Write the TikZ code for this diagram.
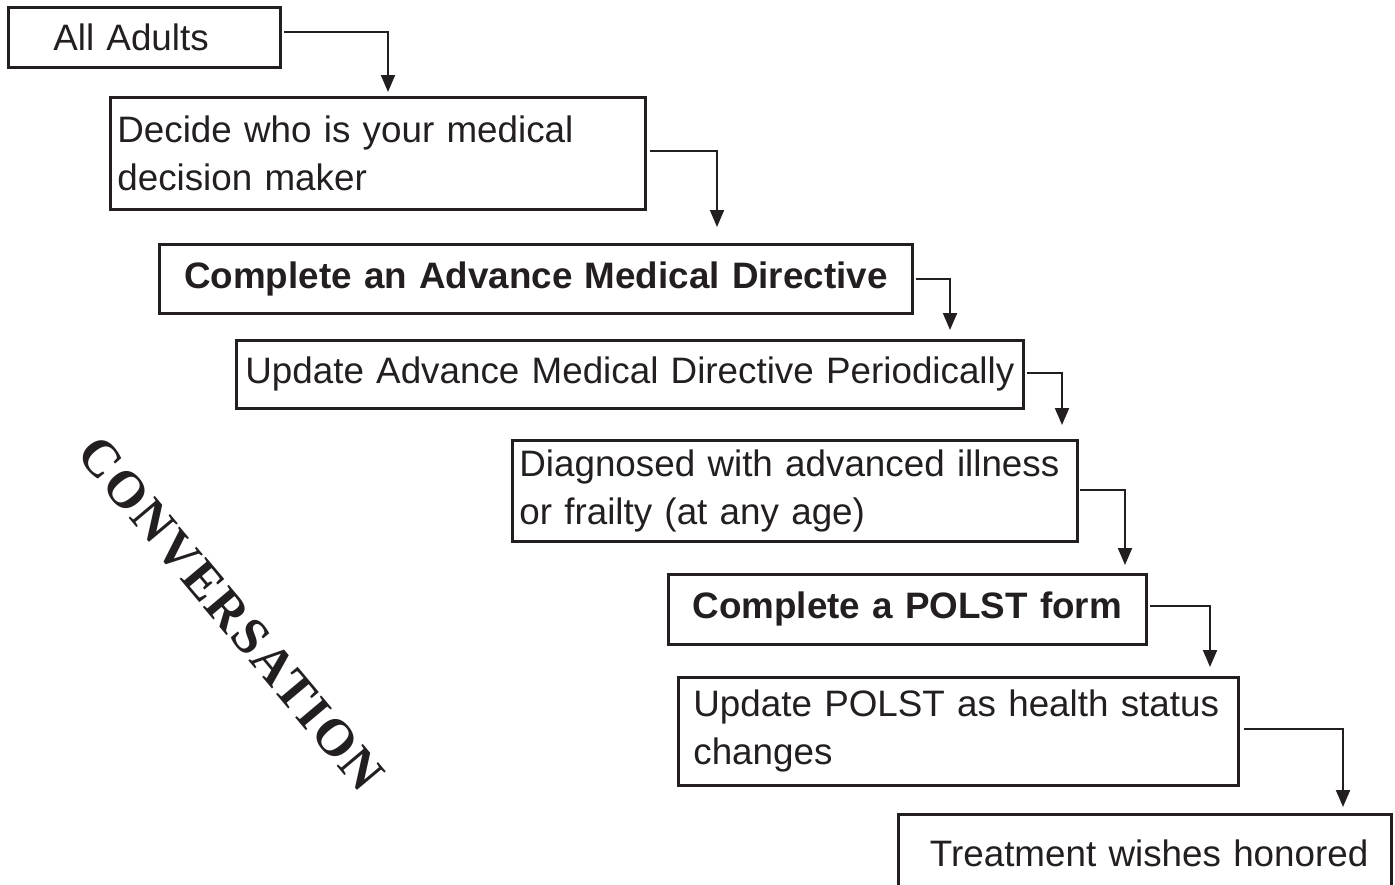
\documentclass[tikz,border=0pt]{standalone}
\usepackage{fontspec}
\setmainfont{Liberation Sans}
\newfontfamily\convfont[LetterSpace=4]{Liberation Serif}
\usetikzlibrary{calc, arrows.meta}
\definecolor{ink}{RGB}{35,31,32}

\begin{document}
\begin{tikzpicture}[x=0.5pt,y=-0.5pt,
    box/.style={draw=ink, line width=1.35pt, anchor=north west, inner ysep=0pt,
      align=left, text=ink, font=\fontsize{18.4}{24}\selectfont},
    flow/.style={draw=ink, line width=1pt, -{Triangle[length=8.5pt,width=7pt]}}]
        \useasboundingbox (0,0) rectangle (1395,884);

        % the steps, top left to bottom right
        \node[box, text width=91pt, inner xsep=22.5pt, minimum height=30pt] (all) at (7,6) {All Adults};
        \node[box, text width=260.5pt, inner xsep=3.5pt, minimum height=56pt] (decide) at (109,96) {Decide who is your medical\\decision maker};
        \node[box, align=center, text width=360pt, inner xsep=8.25pt, minimum height=34.5pt] (amd) at (158,243) {\bfseries Complete an Advance Medical Directive};
        \node[box, align=center, text width=389.5pt, inner xsep=2pt, minimum height=34pt] (upd) at (235,339) {Update Advance Medical Directive Periodically};
        \node[box, text width=275.5pt, inner xsep=3.5pt, minimum height=50.5pt] (diag) at (511,439) {Diagnosed with advanced illness\\or frailty (at any age)};
        \node[box, align=center, text width=225pt, inner xsep=7pt, minimum height=35pt] (polst) at (667,573) {\bfseries Complete a POLST form};
        \node[box, text width=265pt, inner xsep=7.5pt, minimum height=54pt] (updp) at (677,676) {Update POLST as health status\\changes};
        \node[box, align=right, text width=223.5pt, inner xsep=11.5pt, minimum height=39pt] (treat) at (897,813) {Treatment wishes honored};

        % connectors
        \draw[flow] ($(all.east)+(2,-5)$) -| ($(decide.north west)+(279,-4)$);
        \draw[flow] ($(decide.east)+(3,-2)$) -| ($(amd.north west)+(559,-16)$);
        \draw[flow] ($(amd.east)+(2,0)$) -| ($(upd.north west)+(715,-9)$);
        \draw[flow] ($(upd.east)+(2,-1)$) -| ($(diag.north west)+(551,-14)$);
        \draw[flow] ($(diag.east)+(1,-1)$) -| ($(polst.north west)+(458,-8)$);
        \draw[flow] ($(polst.east)+(2,-3)$) -| ($(updp.north west)+(533,-9)$);
        \draw[flow] ($(updp.east)+(4,-2)$) -| ($(treat.north west)+(446,-6)$);

        \node[font=\convfont\bfseries\fontsize{26}{26}\selectfont, text=ink, rotate=-50] (conv) at (231,614) {CONVERSATION};
\end{tikzpicture}
\end{document}
